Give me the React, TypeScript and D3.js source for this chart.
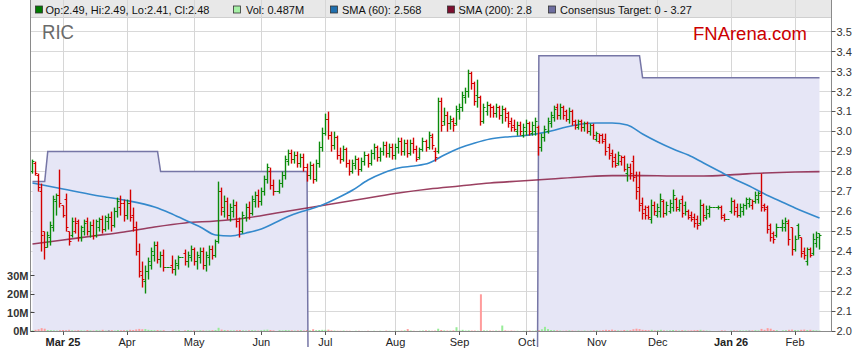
import React from "react";
import * as d3 from "d3";

type Bar = [number, number, number, number]; // open, high, low, close

// daily OHLC, one array per month (weekdays, holidays drawn flat)
const feb25: Bar[] = [
  [2.80, 2.86, 2.79, 2.85], [2.84, 2.85, 2.78, 2.79], [2.78, 2.79, 2.70, 2.72], [2.70, 2.74, 2.40, 2.48],
  [2.50, 2.50, 2.36, 2.42], [2.42, 2.50, 2.42, 2.48], [2.47, 2.55, 2.43, 2.53], [2.52, 2.68, 2.50, 2.66],
  [2.65, 2.69, 2.58, 2.68], [2.68, 2.81, 2.62, 2.64],
];
const mar25: Bar[] = [
  [2.63, 2.63, 2.57, 2.58], [2.66, 2.69, 2.50, 2.52], [2.50, 2.50, 2.43, 2.45], [2.48, 2.57, 2.47, 2.55],
  [2.50, 2.57, 2.49, 2.54], [2.55, 2.56, 2.45, 2.47], [2.47, 2.53, 2.45, 2.52], [2.50, 2.56, 2.48, 2.54],
  [2.55, 2.57, 2.48, 2.50], [2.50, 2.55, 2.47, 2.53], [2.53, 2.56, 2.46, 2.48], [2.48, 2.56, 2.47, 2.55],
  [2.52, 2.57, 2.50, 2.56], [2.56, 2.58, 2.49, 2.51], [2.51, 2.58, 2.50, 2.57], [2.55, 2.59, 2.51, 2.57],
  [2.57, 2.60, 2.50, 2.53], [2.53, 2.62, 2.52, 2.60], [2.60, 2.67, 2.57, 2.65], [2.62, 2.68, 2.58, 2.64],
  [2.64, 2.66, 2.55, 2.58],
];
const apr25: Bar[] = [
  [2.58, 2.66, 2.56, 2.64], [2.64, 2.71, 2.55, 2.57], [2.58, 2.62, 2.50, 2.52], [2.52, 2.55, 2.38, 2.40],
  [2.40, 2.44, 2.27, 2.30], [2.28, 2.35, 2.22, 2.26], [2.25, 2.33, 2.19, 2.30], [2.30, 2.37, 2.26, 2.35],
  [2.33, 2.42, 2.31, 2.40], [2.38, 2.45, 2.35, 2.43], [2.43, 2.45, 2.34, 2.36], [2.36, 2.40, 2.32, 2.38],
  [2.38, 2.41, 2.30, 2.32], [2.32, 2.32, 2.32, 2.32], [2.32, 2.32, 2.32, 2.32], [2.33, 2.38, 2.29, 2.31],
  [2.31, 2.36, 2.28, 2.34], [2.33, 2.38, 2.31, 2.37], [2.37, 2.37, 2.37, 2.37], [2.39, 2.41, 2.33, 2.35],
  [2.35, 2.40, 2.32, 2.38], [2.37, 2.43, 2.35, 2.41],
];
const may25: Bar[] = [
  [2.41, 2.42, 2.33, 2.35], [2.35, 2.40, 2.31, 2.38], [2.37, 2.42, 2.34, 2.40], [2.40, 2.42, 2.31, 2.33],
  [2.33, 2.40, 2.30, 2.38], [2.37, 2.43, 2.33, 2.41], [2.41, 2.43, 2.36, 2.38], [2.38, 2.46, 2.37, 2.45],
  [2.45, 2.75, 2.44, 2.70], [2.70, 2.72, 2.58, 2.62], [2.60, 2.68, 2.57, 2.65], [2.65, 2.67, 2.56, 2.58],
  [2.58, 2.64, 2.55, 2.62], [2.60, 2.66, 2.57, 2.63], [2.63, 2.65, 2.52, 2.55], [2.55, 2.57, 2.47, 2.50],
  [2.50, 2.60, 2.49, 2.58], [2.57, 2.64, 2.55, 2.62], [2.62, 2.65, 2.56, 2.59], [2.59, 2.68, 2.58, 2.66],
  [2.65, 2.70, 2.62, 2.68], [2.68, 2.71, 2.62, 2.65],
];
const jun25: Bar[] = [
  [2.65, 2.72, 2.63, 2.70], [2.70, 2.78, 2.68, 2.76], [2.76, 2.84, 2.74, 2.82], [2.80, 2.82, 2.71, 2.73],
  [2.73, 2.76, 2.68, 2.70], [2.70, 2.70, 2.70, 2.70], [2.70, 2.76, 2.69, 2.74], [2.74, 2.80, 2.72, 2.78],
  [2.78, 2.88, 2.76, 2.86], [2.85, 2.91, 2.83, 2.89], [2.89, 2.91, 2.84, 2.86], [2.86, 2.90, 2.84, 2.88],
  [2.88, 2.90, 2.82, 2.84], [2.84, 2.89, 2.82, 2.87], [2.87, 2.89, 2.80, 2.82], [2.82, 2.84, 2.75, 2.78],
  [2.78, 2.85, 2.76, 2.83], [2.83, 2.84, 2.74, 2.76], [2.76, 2.86, 2.75, 2.84], [2.84, 2.95, 2.82, 2.92],
  [2.92, 3.02, 2.90, 2.99],
];
const jul25: Bar[] = [
  [2.99, 3.09, 2.98, 3.06], [3.06, 3.10, 2.96, 2.98], [2.98, 3.00, 2.90, 2.93], [2.93, 3.00, 2.91, 2.97],
  [2.97, 2.98, 2.86, 2.88], [2.88, 2.92, 2.84, 2.86], [2.86, 2.93, 2.85, 2.91], [2.91, 2.92, 2.82, 2.84],
  [2.84, 2.86, 2.78, 2.80], [2.80, 2.86, 2.79, 2.84], [2.83, 2.88, 2.81, 2.86], [2.86, 2.87, 2.78, 2.81],
  [2.81, 2.87, 2.80, 2.85], [2.85, 2.90, 2.83, 2.88], [2.88, 2.89, 2.82, 2.84], [2.84, 2.91, 2.83, 2.89],
  [2.89, 2.94, 2.86, 2.92], [2.92, 2.93, 2.85, 2.87], [2.87, 2.92, 2.85, 2.90], [2.90, 2.95, 2.88, 2.93],
  [2.93, 2.95, 2.87, 2.89], [2.89, 2.94, 2.87, 2.92], [2.92, 2.94, 2.86, 2.88],
];
const aug25: Bar[] = [
  [2.88, 2.94, 2.86, 2.92], [2.92, 2.97, 2.89, 2.95], [2.95, 2.97, 2.88, 2.90], [2.90, 2.96, 2.88, 2.94],
  [2.94, 2.96, 2.87, 2.89], [2.89, 2.96, 2.88, 2.94], [2.94, 2.97, 2.89, 2.91], [2.91, 2.93, 2.85, 2.86],
  [2.87, 2.92, 2.86, 2.91], [2.91, 2.97, 2.90, 2.95], [2.95, 2.96, 2.90, 2.92], [2.92, 3.00, 2.91, 2.98],
  [2.97, 2.99, 2.91, 2.93], [2.90, 2.92, 2.85, 2.87], [2.90, 3.17, 2.89, 3.15], [3.15, 3.17, 3.00, 3.03],
  [3.05, 3.12, 3.03, 3.08], [3.08, 3.10, 3.00, 3.04], [3.04, 3.08, 3.01, 3.06], [3.05, 3.07, 3.00, 3.03],
  [3.04, 3.13, 3.03, 3.11],
];
const sep25: Bar[] = [
  [3.10, 3.14, 3.06, 3.12], [3.12, 3.20, 3.10, 3.18], [3.17, 3.22, 3.14, 3.20], [3.20, 3.31, 3.17, 3.29],
  [3.29, 3.30, 3.21, 3.24], [3.24, 3.25, 3.13, 3.15], [3.18, 3.26, 3.12, 3.17], [3.17, 3.18, 3.03, 3.05],
  [3.05, 3.14, 3.04, 3.12], [3.10, 3.15, 3.08, 3.13], [3.13, 3.14, 3.07, 3.12], [3.12, 3.13, 3.07, 3.09],
  [3.09, 3.14, 3.07, 3.12], [3.12, 3.13, 3.06, 3.08], [3.08, 3.13, 3.04, 3.11], [3.11, 3.12, 3.05, 3.07],
  [3.09, 3.10, 3.02, 3.04], [3.05, 3.07, 3.00, 3.02], [3.03, 3.06, 3.00, 3.01], [3.00, 3.05, 2.98, 3.03],
  [3.03, 3.05, 2.98, 3.00], [2.98, 3.04, 2.97, 3.02],
];
const oct25: Bar[] = [
  [3.00, 3.06, 2.98, 3.04], [3.04, 3.05, 2.98, 3.00], [2.99, 3.05, 2.98, 3.03], [3.00, 3.07, 2.98, 3.05],
  [3.02, 3.03, 2.88, 2.92], [2.92, 2.99, 2.90, 2.97], [2.97, 3.03, 2.95, 3.01], [3.00, 3.07, 2.99, 3.05],
  [3.04, 3.10, 3.02, 3.08], [3.07, 3.13, 3.05, 3.11], [3.12, 3.14, 3.06, 3.08], [3.08, 3.14, 3.06, 3.12],
  [3.12, 3.13, 3.06, 3.08], [3.10, 3.11, 3.05, 3.06], [3.06, 3.12, 3.04, 3.10], [3.10, 3.11, 3.03, 3.05],
  [3.05, 3.06, 3.01, 3.03], [3.02, 3.06, 3.01, 3.05], [3.05, 3.06, 3.00, 3.02], [3.02, 3.05, 3.00, 3.04],
  [3.04, 3.05, 2.99, 3.00], [3.00, 3.04, 2.98, 3.03], [3.03, 3.04, 2.96, 2.98],
];
const nov25: Bar[] = [
  [2.96, 3.00, 2.95, 2.99], [2.95, 2.99, 2.94, 2.98], [2.98, 2.99, 2.94, 2.95], [2.96, 2.99, 2.88, 2.90],
  [2.92, 2.94, 2.86, 2.88], [2.89, 2.91, 2.82, 2.85], [2.87, 2.89, 2.82, 2.83], [2.84, 2.90, 2.83, 2.88],
  [2.85, 2.88, 2.83, 2.87], [2.87, 2.88, 2.80, 2.81], [2.79, 2.84, 2.75, 2.82], [2.82, 2.84, 2.76, 2.79],
  [2.85, 2.88, 2.75, 2.77], [2.78, 2.80, 2.66, 2.70], [2.72, 2.80, 2.60, 2.63], [2.64, 2.67, 2.56, 2.59],
  [2.61, 2.63, 2.56, 2.58], [2.62, 2.63, 2.56, 2.57], [2.56, 2.66, 2.54, 2.63], [2.63, 2.65, 2.58, 2.60],
];
const dec25: Bar[] = [
  [2.58, 2.64, 2.57, 2.62], [2.60, 2.69, 2.57, 2.66], [2.65, 2.66, 2.57, 2.59], [2.59, 2.65, 2.58, 2.63],
  [2.60, 2.66, 2.59, 2.64], [2.62, 2.71, 2.60, 2.68], [2.66, 2.67, 2.60, 2.62], [2.61, 2.66, 2.60, 2.64],
  [2.66, 2.68, 2.57, 2.59], [2.63, 2.65, 2.58, 2.60], [2.60, 2.61, 2.56, 2.57], [2.58, 2.60, 2.55, 2.56],
  [2.57, 2.59, 2.52, 2.54], [2.56, 2.58, 2.51, 2.53], [2.54, 2.66, 2.53, 2.63], [2.63, 2.64, 2.55, 2.58],
  [2.57, 2.63, 2.56, 2.61], [2.59, 2.63, 2.57, 2.62], [2.62, 2.62, 2.62, 2.62], [2.62, 2.62, 2.62, 2.62],
  [2.62, 2.63, 2.61, 2.62], [2.62, 2.63, 2.56, 2.57], [2.58, 2.59, 2.55, 2.56],
];
const jan26: Bar[] = [
  [2.56, 2.56, 2.56, 2.56], [2.60, 2.67, 2.59, 2.65], [2.65, 2.66, 2.58, 2.60], [2.62, 2.64, 2.57, 2.58],
  [2.58, 2.64, 2.57, 2.62], [2.60, 2.64, 2.58, 2.63], [2.63, 2.67, 2.61, 2.66], [2.64, 2.67, 2.62, 2.66],
  [2.63, 2.66, 2.61, 2.65], [2.65, 2.70, 2.64, 2.68], [2.66, 2.70, 2.64, 2.69], [2.68, 2.79, 2.60, 2.62],
  [2.63, 2.64, 2.60, 2.61], [2.62, 2.63, 2.49, 2.51], [2.53, 2.54, 2.45, 2.47], [2.49, 2.50, 2.44, 2.46],
  [2.48, 2.54, 2.47, 2.52], [2.52, 2.52, 2.52, 2.52], [2.52, 2.56, 2.50, 2.54], [2.52, 2.57, 2.50, 2.55],
  [2.54, 2.56, 2.43, 2.46], [2.52, 2.52, 2.38, 2.41],
];
const feb26: Bar[] = [
  [2.41, 2.48, 2.40, 2.46], [2.53, 2.54, 2.46, 2.48], [2.47, 2.47, 2.37, 2.39], [2.40, 2.42, 2.36, 2.38],
  [2.35, 2.42, 2.33, 2.41], [2.41, 2.42, 2.37, 2.38], [2.39, 2.49, 2.38, 2.46], [2.44, 2.50, 2.42, 2.47],
  [2.49, 2.49, 2.41, 2.48],
];

// daily volume in millions
const volFeb25 = [0.6, 0.9, 1.2, 1.8, 1.5, 0.8, 0.7, 0.6, 0.5, 0.7];
const volMar25 = [0.8, 0.7, 0.9, 0.6, 0.5, 0.7, 0.6, 0.5, 0.8, 0.6, 0.5, 0.7, 0.6, 0.9, 0.5, 0.6, 0.7, 0.5, 0.8, 0.6, 0.7];
const volApr25 = [0.7, 0.9, 0.8, 1.1, 1.4, 1.2, 1.3, 0.9, 0.8, 0.7, 0.8, 0.6, 0.7, 0, 0, 0.6, 0.5, 0.7, 0, 0.6, 0.8, 0.5];
const volMay25 = [0.6, 0.5, 0.7, 0.6, 0.5, 0.6, 0.7, 0.8, 2.0, 1.0, 0.8, 0.7, 0.6, 0.6, 0.7, 0.8, 0.6, 0.5, 0.6, 0.7, 0.6, 0.5];
const volJun25 = [0.7, 0.9, 1.0, 0.8, 0.6, 0, 0.7, 0.6, 0.8, 0.7, 0.6, 0.5, 0.6, 0.7, 0.5, 0.8, 0.6, 1.2, 0.7, 0.8, 0.9];
const volJul25 = [0.9, 1.0, 0.6, 0.5, 0.4, 0.4, 0.5, 0.4, 0.4, 0.3, 0.4, 0.4, 0.3, 0.3, 0.4, 0.3, 0.4, 0.3, 0.4, 0.3, 0.5, 0.4, 0.3];
const volAug25 = [0.4, 0.4, 0.5, 0.6, 1.3, 0.5, 0.4, 0.3, 0.4, 0.5, 0.6, 0.5, 0.4, 0.5, 1.5, 0.8, 0.6, 0.5, 0.5, 0.6, 2.3];
const volSep25 = [0.6, 0.9, 0.5, 0.6, 0.5, 0.5, 0.4, 20.0, 0.6, 0.5, 0.5, 0.4, 0.5, 0.4, 3.2, 0.6, 0.4, 0.5, 0.4, 0.4, 0.3, 0.4];
const volOct25 = [0.4, 0.5, 0.4, 0.5, 0.7, 1.2, 2.5, 1.3, 0.8, 0.7, 0.6, 0.5, 0.4, 0.5, 0.6, 0.5, 0.4, 0.5, 0.4, 0.5, 0.4, 0.5, 0.6];
const volNov25 = [0.6, 0.5, 0.7, 0.9, 0.8, 1.0, 0.7, 0.6, 0.5, 0.8, 0.6, 0.7, 1.2, 1.5, 1.3, 0.9, 0.8, 0.7, 0.9, 0.6];
const volDec25 = [0.7, 0.9, 0.6, 0.5, 0.6, 0.8, 0.6, 0.5, 0.7, 0.6, 0.5, 0.6, 0.7, 0.8, 0.9, 0.6, 0.5, 0.4, 0, 0, 0.3, 0.6, 0.5];
const volJan26 = [0, 0.5, 0.6, 0.5, 0.6, 0.5, 0.6, 0.5, 0.6, 0.7, 0.6, 1.4, 0.9, 1.8, 1.5, 0.8, 0.7, 0, 0.6, 0.7, 0.9, 1.0];
const volFeb26 = [0.8, 0.7, 0.9, 1.0, 0.8, 0.9, 0.7, 0.6, 0.487];

const ohlcMonths = [feb25, mar25, apr25, may25, jun25, jul25, aug25, sep25, oct25, nov25, dec25, jan26, feb26];
const volMonths = [volFeb25, volMar25, volApr25, volMay25, volJun25, volJul25, volAug25, volSep25, volOct25, volNov25, volDec25, volJan26, volFeb26];

// moving averages: [day index, value]
const sma60: [number, number][] = [
  [0, 2.743], [10, 2.713], [20, 2.683], [30, 2.658], [40, 2.623], [45, 2.593], [50, 2.558], [55, 2.523],
  [60, 2.483], [65, 2.478], [70, 2.493], [75, 2.513], [80, 2.548], [85, 2.583], [90, 2.608], [95, 2.633],
  [100, 2.668], [105, 2.708], [110, 2.758], [115, 2.793], [120, 2.818], [125, 2.828], [130, 2.843],
  [135, 2.883], [140, 2.918], [145, 2.943], [150, 2.963], [155, 2.973], [160, 2.978], [165, 2.988],
  [170, 3.003], [175, 3.023], [180, 3.038], [185, 3.043], [190, 3.043], [195, 3.033], [200, 2.988],
  [205, 2.948], [210, 2.913], [215, 2.883], [220, 2.843], [225, 2.803], [230, 2.763], [235, 2.728],
  [240, 2.688], [245, 2.653], [250, 2.618], [258, 2.568],
];
const sma200: [number, number][] = [
  [0, 2.438], [10, 2.458], [20, 2.478], [30, 2.498], [40, 2.523], [50, 2.543], [60, 2.553], [70, 2.568],
  [80, 2.593], [90, 2.618], [100, 2.643], [110, 2.668], [120, 2.693], [130, 2.713], [140, 2.728],
  [150, 2.743], [160, 2.753], [170, 2.763], [180, 2.773], [190, 2.78], [200, 2.78], [210, 2.778],
  [220, 2.778], [230, 2.785], [240, 2.793], [250, 2.798], [258, 2.8],
];
// consensus target: [first day index, value]
const targetSteps: [number, number][] = [[0, 2.75], [5, 2.9], [42, 2.8], [91, 0], [166, 3.38], [200, 3.27]];

const monthLabels = ["Mar 25", "Apr", "May", "Jun", "Jul", "Aug", "Sep", "Oct", "Nov", "Dec", "Jan 26", "Feb"];
const priceTicks = [2.0, 2.1, 2.2, 2.3, 2.4, 2.5, 2.6, 2.7, 2.8, 2.9, 3.0, 3.1, 3.2, 3.3, 3.4, 3.5];
const volTicks = [0, 10, 20, 30];

const legendItems = [
  { color: "#007a00", text: "Op:2.49, Hi:2.49, Lo:2.41, Cl:2.48", sq: 35, tx: 45.5 },
  { color: "#a6f0a6", text: "Vol: 0.487M", sq: 233, tx: 246 },
  { color: "#1f6fae", text: "SMA (60): 2.568", sq: 330, tx: 342 },
  { color: "#7d0f2f", text: "SMA (200): 2.8", sq: 447, tx: 458.5 },
  { color: "#6e6ea0", text: "Consensus Target: 0 - 3.27", sq: 548, tx: 560 },
];

const FONT = "'Liberation Sans', Arial, Helvetica, sans-serif";

export default function App() {
  const W = 859, H = 363;
  const left = 30.5, right = 831.5, top = 17, bottom = 331.5;

  const bars = ohlcMonths.flat();
  const vols = volMonths.flat();
  const n = bars.length;

  // weekday calendar starting Mon 17 Feb 2025
  const dates: Date[] = [];
  let d = new Date(2025, 1, 17);
  while (dates.length < n) {
    if (d.getDay() !== 0 && d.getDay() !== 6) dates.push(d);
    d = d3.timeDay.offset(d, 1);
  }
  // first traded (non-holiday) day of each month
  const isHoliday = (i: number) => vols[i] === 0;
  const monthStarts: number[] = [];
  let lastMonth = dates[0].getMonth();
  dates.forEach((dt, i) => {
    if (dt.getMonth() !== lastMonth && !isHoliday(i)) {
      monthStarts.push(i);
      lastMonth = dt.getMonth();
    }
  });

  const x = d3.scaleLinear().domain([0, n - 1]).range([32.5, 819.5]);
  const y = d3.scaleLinear().domain([2.0, 3.5]).range([331.5, 31.7]);
  const v = d3.scaleLinear().domain([0, 30]).range([331.5, 275.7]);

  const target = d3.range(n).map((i) => {
    let val = targetSteps[0][1];
    for (const [from, value] of targetSteps) if (i >= from) val = value;
    return val;
  });

  const areaGen = d3.area<number>().x((_, i) => x(i)).y0(bottom).y1((t) => y(t));
  const lineGen = d3.line<number>().x((_, i) => x(i)).y((t) => y(t));
  const smaLine = d3.line<[number, number]>().x((p) => x(p[0])).y((p) => y(p[1])).curve(d3.curveMonotoneX);

  const up = (i: number) => (i === 0 ? bars[i][3] >= bars[i][0] : bars[i][3] >= bars[i - 1][3]);
  const volColor = (i: number) => {
    if (i > 0 && bars[i][3] === bars[i - 1][3]) return "#8a8a8a";
    return up(i) ? "#98ec98" : "#ff9c9c";
  };

  const crisp = (p: number) => Math.round(p - 0.5) + 0.5;

  return (
    <div>
      <style>{"body{margin:0;background:#fff}"}</style>
      <svg width={W} height={H} style={{ display: "block" }} fontFamily={FONT}>
        <defs>
          <clipPath id="plot">
            <rect x={left} y={top} width={right - left} height={bottom - top} />
          </clipPath>
          <clipPath id="tgt">
            <rect x={left} y={0} width={right - left} height={347} />
          </clipPath>
        </defs>
        <rect x={0} y={0} width={W} height={H} fill="#fff" />

        {/* legend bar */}
        <rect x={left} y={0} width={right - left} height={top} fill="#e8e8e8" />
        <line x1={left} x2={right} y1={top + 0.5} y2={top + 0.5} stroke="#cfcfcf" />

        {/* grid */}
        {priceTicks.slice(1).map((t) => (
          <line key={"h" + t} x1={left} x2={right} y1={crisp(y(t))} y2={crisp(y(t))} stroke="#d9d9d9" />
        ))}
        {monthStarts.map((i) => (
          <line key={"v" + i} x1={crisp(x(i))} x2={crisp(x(i))} y1={0} y2={bottom} stroke="#d6d6d6" />
        ))}

        {/* consensus target fill */}
        <path d={areaGen(target) || ""} fill="#e6e6f6" clipPath="url(#plot)" />

        {/* volume */}
        {vols.map((vol, i) =>
          vol > 0 ? (
            <rect key={"vol" + i} x={x(i) - 1} y={v(vol)} width={2} height={bottom - v(vol)} fill={volColor(i)} />
          ) : null
        )}

        {/* consensus target line */}
        <path d={lineGen(target) || ""} fill="none" stroke="#7676a6" strokeWidth={1.5} clipPath="url(#tgt)" />

        {/* moving averages */}
        <path d={smaLine(sma200) || ""} fill="none" stroke="#8a1f45" strokeOpacity={0.85} strokeWidth={1.6} />
        <path d={smaLine(sma60) || ""} fill="none" stroke="#3489cc" strokeWidth={1.6} />

        {/* OHLC bars */}
        {bars.map(([o, h, l, c], i) => {
          const cx = crisp(x(i));
          const col = up(i) ? "#0a8a0a" : "#d40000";
          return (
            <g key={"b" + i} stroke={col} strokeWidth={1.4}>
              {h > l ? <line x1={cx} x2={cx} y1={y(h)} y2={y(l)} /> : null}
              <line x1={cx - 2} x2={cx} y1={crisp(y(o))} y2={crisp(y(o))} strokeWidth={1} />
              <line x1={cx} x2={cx + 2} y1={crisp(y(c))} y2={crisp(y(c))} strokeWidth={1} />
            </g>
          );
        })}

        {/* axes */}
        <line x1={left} x2={left} y1={0} y2={bottom} stroke="#8a8a8a" />
        <line x1={right} x2={right} y1={0} y2={bottom} stroke="#8a8a8a" />
        <line x1={left} x2={right} y1={bottom} y2={bottom} stroke="#8a8a8a" />

        {priceTicks.map((t) => (
          <g key={"pt" + t}>
            <line x1={right} x2={right + 4} y1={crisp(y(t))} y2={crisp(y(t))} stroke="#555" />
            <text x={right + 5} y={y(t)} dy="0.35em" fontSize={11} fill="#333">
              {t.toFixed(1)}
            </text>
          </g>
        ))}
        {volTicks.map((t) => (
          <g key={"vt" + t}>
            <line x1={left} x2={left + 4} y1={crisp(v(t))} y2={crisp(v(t))} stroke="#444" />
            <text x={28.5} y={v(t)} dy="0.35em" fontSize={11} fontWeight="bold" fill="#333" textAnchor="end">
              {t + "M"}
            </text>
          </g>
        ))}
        {monthStarts.map((i, k) => (
          <g key={"mt" + i}>
            <line x1={crisp(x(i))} x2={crisp(x(i))} y1={bottom} y2={bottom + 3.5} stroke="#555" />
            <text
              x={x(i)}
              y={345.5}
              fontSize={11}
              textAnchor="middle"
              fill="#222"
              fontWeight={/\d/.test(monthLabels[k] || "") ? "bold" : "normal"}
            >
              {monthLabels[k]}
            </text>
          </g>
        ))}

        {/* legend */}
        {legendItems.map((it) => (
          <g key={it.text}>
            <rect x={it.sq + 0.5} y={6} width={7} height={7} fill={it.color} stroke="#333" strokeWidth={0.8} />
            <text x={it.tx} y={14} fontSize={11} fill="#111">
              {it.text}
            </text>
          </g>
        ))}

        {/* titles */}
        <text x={42} y={39} fontSize={20} fill="#6b6b6b" textLength={32} lengthAdjust="spacingAndGlyphs">
          RIC
        </text>
        <text x={693} y={40} fontSize={18} fill="#cc0000" textLength={114} lengthAdjust="spacingAndGlyphs">
          FNArena.com
        </text>
      </svg>
    </div>
  );
}
